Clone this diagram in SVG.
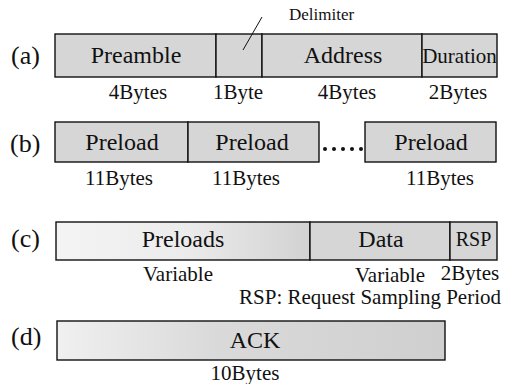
<svg xmlns="http://www.w3.org/2000/svg" width="511" height="384" viewBox="0 0 511 384" font-family="'Liberation Serif', 'DejaVu Serif', 'Times New Roman', serif">
<style>
text{font-family:'Liberation Serif','DejaVu Serif','Times New Roman',serif;fill:#111}
.lbl{font-size:24px;text-anchor:middle}
.tag{font-size:26px}
.sz{font-size:21px;text-anchor:middle}
.small{font-size:17px}
.box{stroke:#111;stroke-width:1.4}
.g{fill:#d6d6d6}
</style>
<defs>
<linearGradient id="fadeC" x1="0" y1="0" x2="1" y2="0">
<stop offset="0" stop-color="#f4f4f4"/><stop offset="0.5" stop-color="#ececec"/><stop offset="1" stop-color="#d2d2d2"/>
</linearGradient>
<linearGradient id="fadeD" x1="0" y1="0" x2="1" y2="0">
<stop offset="0" stop-color="#f0f0f0"/><stop offset="0.4" stop-color="#dadada"/><stop offset="1" stop-color="#cfcfcf"/>
</linearGradient>
</defs>

<g id="row-a">
<text class="tag" x="11" y="64">(a)</text>
<g id="a-preamble"><rect class="box g" x="55" y="34" width="161" height="43"/><text class="lbl" x="136" y="63">Preamble</text><text class="sz" x="138" y="99">4Bytes</text></g>
<g id="a-delim"><rect class="box g" x="216" y="34" width="46" height="43"/><text class="sz" x="238" y="99">1Byte</text></g>
<g id="a-address"><rect class="box g" x="262" y="34" width="160" height="43"/><text class="lbl" x="343" y="63">Address</text><text class="sz" x="347" y="99">4Bytes</text></g>
<g id="a-duration"><rect class="box g" x="422" y="34" width="75" height="43"/><text class="lbl" x="459.5" y="63" style="font-size:21px">Duration</text><text class="sz" x="458" y="99">2Bytes</text></g>
<text class="small" x="289" y="20">Delimiter</text>
</g>

<g id="row-b">
<text class="tag" x="10" y="152">(b)</text>
<g id="b-preload1"><rect class="box g" x="55" y="122" width="133" height="40"/><text class="lbl" x="122" y="150">Preload</text><text class="sz" x="119" y="185">11Bytes</text></g>
<g id="b-preload2"><rect class="box g" x="188" y="122" width="131" height="40"/><text class="lbl" x="252" y="150">Preload</text><text class="sz" x="246" y="185">11Bytes</text></g>
<g id="b-preload3"><rect class="box g" x="365" y="122" width="131" height="40"/><text class="lbl" x="431" y="150">Preload</text><text class="sz" x="440" y="185">11Bytes</text></g>
<g id="b-dots" fill="#111"><circle cx="325" cy="149" r="2"/><circle cx="334" cy="149" r="2"/><circle cx="343" cy="149" r="2"/><circle cx="352" cy="149" r="2"/><circle cx="361" cy="149" r="2"/></g>
</g>

<g id="row-c">
<text class="tag" x="11" y="247">(c)</text>
<g id="c-preloads"><rect class="box" fill="url(#fadeC)" x="56" y="222" width="254" height="38"/><text class="lbl" x="183" y="247">Preloads</text><text class="sz" x="178" y="281">Variable</text></g>
<g id="c-data"><rect class="box g" x="310" y="222" width="140" height="38"/><text class="lbl" x="381" y="247">Data</text><text class="sz" x="390" y="282">Variable</text></g>
<g id="c-rsp"><rect class="box g" x="450" y="222" width="47" height="38"/><text class="lbl" x="473.5" y="246" style="font-size:20px">RSP</text><text class="sz" x="470" y="280">2Bytes</text></g>
<text class="sz" x="370" y="304">RSP: Request Sampling Period</text>
</g>

<g id="row-d">
<text class="tag" x="11" y="345">(d)</text>
<g id="d-ack"><rect class="box" fill="url(#fadeD)" x="57" y="321" width="388" height="39"/><text class="lbl" x="255" y="348">ACK</text><text class="sz" x="245" y="380">10Bytes</text></g>
</g>

<g id="connectors"><line x1="243" y1="50" x2="262" y2="17" stroke="#111" stroke-width="1"/></g>
</svg>
